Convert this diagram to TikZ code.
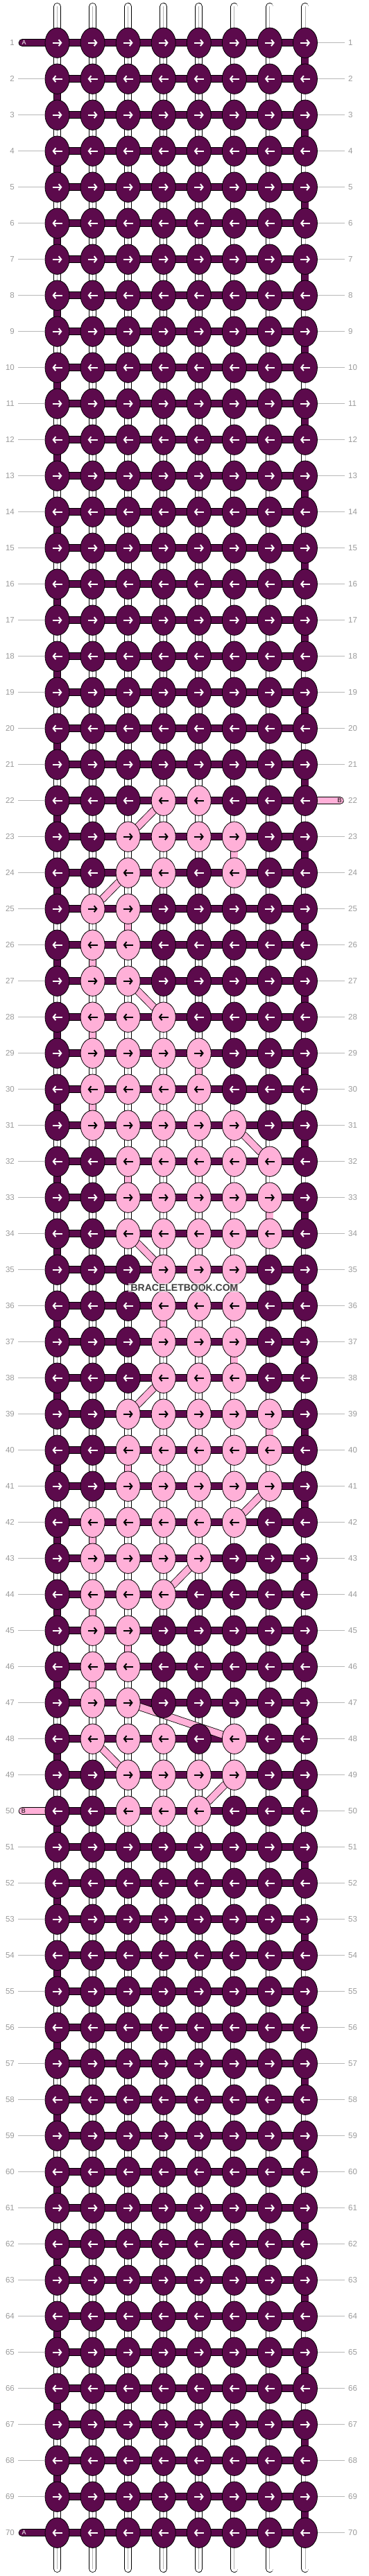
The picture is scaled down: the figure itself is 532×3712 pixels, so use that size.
\documentclass[tikz,border=0pt]{standalone}
\usepackage{fontspec}
\setmainfont{Liberation Sans}
\usepackage{xcolor}
\usetikzlibrary{arrows.meta,positioning,calc,shapes.geometric,backgrounds}
\definecolor{plum}{HTML}{5C0A4C}
\definecolor{blush}{HTML}{FFB0D8}
\definecolor{numgray}{HTML}{9A9A9A}

\begin{document}
\begin{tikzpicture}[x=1pt,y=1pt,
    knot/.style={ellipse,draw=black,line width=0.8pt,minimum width=35pt,minimum height=43.4pt,inner sep=0pt},
    knotarrow/.style={line width=2pt,-{Straight Barb[length=3.6pt,width=9pt]}},
    warp/.style={draw=black,line width=0.8pt,double=white,double distance=9.4pt,line cap=round},
    warpmid/.style={draw=black!30,line width=0.9pt},
    darkthread/.style={draw=black,line width=0.8pt,double=plum,double distance=9.4pt,line cap=round},
    pinkthread/.style={draw=black,line width=0.8pt,double=blush,double distance=9.4pt,line cap=round},
    rowline/.style={draw=black!28,line width=0.8pt},
    rownum/.style={text=numgray,inner sep=0pt,font=\fontsize{11.5}{12}\selectfont},
    tag/.style={inner sep=0pt,font=\fontsize{9}{9}\selectfont},
    watermark/.style={fill=white,fill opacity=0.6,text opacity=1,text=black!75,inner xsep=4pt,inner ysep=2pt,font=\bfseries\fontsize{14}{14}\selectfont}]
    \useasboundingbox (0,0) rectangle (532,-3712);

    % Pink knots of the motif
    \foreach \r/\cols in {22/{4,5},23/{3,4,5,6},24/{3,4,6},25/{2,3},26/{2,3},27/{2,3},
        28/{2,3,4},29/{2,3,4,5},30/{2,3,4,5},31/{2,3,4,5,6},32/{3,4,5,6,7},33/{3,4,5,6,7},
        34/{3,4,5,6,7},35/{4,5,6},36/{4,5,6},37/{4,5,6},38/{4,5,6},39/{3,4,5,6,7},
        40/{3,4,5,6,7},41/{3,4,5,6,7},42/{2,3,4,5,6},43/{2,3,4,5},44/{2,3,4},45/{2,3},
        46/{2,3},47/{2,3},48/{2,3,4,6},49/{3,4,5,6},50/{3,4,5}}
        {\foreach \c in \cols {\expandafter\gdef\csname pk-\r-\c\endcsname{}}}

    % Knots
    \foreach \r in {1,...,70} {
        \pgfmathsetmacro\yy{-61.7-52*(\r-1)}
        \foreach \c in {1,...,8} {
            \pgfmathsetmacro\xx{82.5+51.07*(\c-1)}
            \ifcsname pk-\r-\c\endcsname \def\kfill{blush}\def\kink{black}\else \def\kfill{plum}\def\kink{white}\fi
            \node[knot,fill=\kfill] (k-\r-\c) at (\xx,\yy) {};
            \ifodd\r
                \draw[knotarrow,draw=\kink] (\xx-7,\yy) -- (\xx+7,\yy);
            \else
                \draw[knotarrow,draw=\kink] (\xx+7,\yy) -- (\xx-7,\yy);
            \fi
        }
    }

    % Row numbers
    \foreach \r in {1,...,70} {
        \pgfmathsetmacro\yy{-61.7-52*(\r-1)}
        \node[rownum,anchor=east] (ln-\r) at (21,\yy) {\r};
        \node[rownum,anchor=west] (rn-\r) at (502,\yy) {\r};
        \ifnum\r=1 \else\ifnum\r=50 \else\ifnum\r=70 \else
            \draw[rowline,shorten <=5pt] (ln-\r.east) -- (k-\r-1.west);
        \fi\fi\fi
        \ifnum\r=22 \else
            \draw[rowline,shorten >=5pt] (k-\r-8.east) -- (rn-\r.west);
        \fi
    }

    % Thread ends
    \coordinate (endA1) at (32.2,-61.7);
    \coordinate (endA70) at (32.2,-3649.7);
    \coordinate (endB22) at (490.2,-1153.7);
    \coordinate (endB50) at (32.2,-2609.7);
    \node[tag,text=white] (tagA1) at (34.7,-61.7) {A};
    \node[tag,text=white] (tagA70) at (34.7,-3649.7) {A};
    \node[tag,text=black] (tagB22) at (489.5,-1153.7) {B};
    \node[tag,text=black] (tagB50) at (33.9,-2609.7) {B};

    \node[watermark] (wm) at (266,-1855.5) {BRACELETBOOK.COM};

    \begin{scope}[on background layer]
        % Base strands
        \foreach \c in {1,...,8} {
            \pgfmathsetmacro\xx{82.5+51.07*(\c-1)}
            \coordinate (top-\c) at (\xx,-9.5);
            \coordinate (bot-\c) at (\xx,-3701.5);
            \draw[warp] (top-\c) -- (bot-\c);
            \draw[warpmid] (top-\c) -- (bot-\c);
        }

        % Rows of the dark thread
        \foreach \r in {1,...,70} {
            \draw[darkthread] (k-\r-1) -- (k-\r-8);
        }
        \foreach \r in {1,...,69} {
            \pgfmathtruncatemacro\rn{\r+1}
            \ifodd\r \def\tc{8}\else \def\tc{1}\fi
            \draw[darkthread] (k-\r-\tc) -- (k-\rn-\tc);
        }
        \draw[darkthread] (endA1) -- (k-1-1);
        \draw[darkthread] (endA70) -- (k-70-1);

        % Path of the pink thread
        \draw[pinkthread] (endB22) -- (k-22-8);
        \draw[pinkthread] (endB50) -- (k-50-1);
        \foreach \ra/\ca/\rb/\cb in {22/4/23/3,23/6/24/6,24/3/25/2,25/3/26/3,26/2/27/2,
            27/3/28/4,28/2/29/2,29/5/30/5,30/2/31/2,31/6/32/7,32/3/33/3,33/7/34/7,
            34/3/35/4,35/6/36/6,36/4/37/4,37/6/38/6,38/4/39/3,39/7/40/7,40/3/41/3,
            41/7/42/6,42/2/43/2,43/5/44/4,44/2/45/2,45/3/46/3,46/2/47/2,47/3/48/6,
            48/2/49/3,49/6/50/5}
            \draw[pinkthread] (k-\ra-\ca) -- (k-\rb-\cb);
    \end{scope}
\end{tikzpicture}
\end{document}
